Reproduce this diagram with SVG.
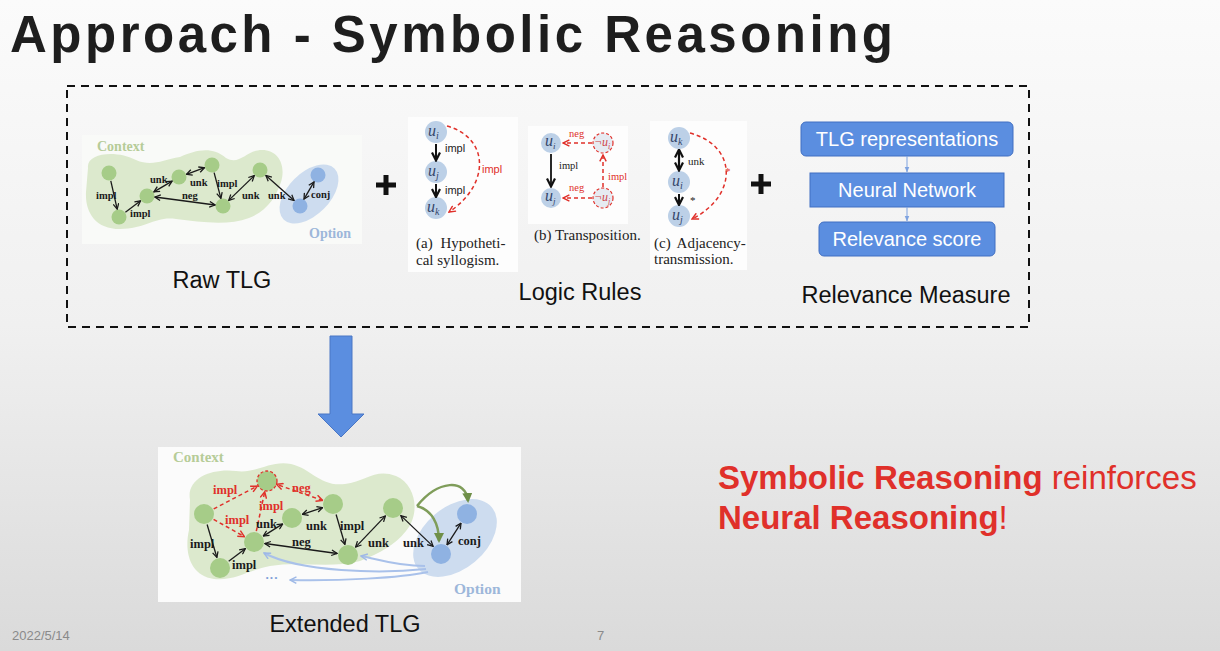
<svg xmlns="http://www.w3.org/2000/svg" width="1220" height="651" viewBox="0 0 1220 651">
<defs>
<linearGradient id="bg" x1="0" y1="0" x2="0" y2="1">
<stop offset="0" stop-color="#fbfbfb"/>
<stop offset="0.5" stop-color="#f0f0f0"/>
<stop offset="1" stop-color="#dadada"/>
</linearGradient>
<marker id="ak" viewBox="0 0 10 10" refX="9" refY="5" markerWidth="7" markerHeight="7" markerUnits="userSpaceOnUse" orient="auto-start-reverse"><path d="M1,1 L9,5 L1,9" fill="none" stroke="#1a1a1a" stroke-width="1.8"/></marker>
<marker id="akb" viewBox="0 0 10 10" refX="8.5" refY="5" markerWidth="10" markerHeight="10" markerUnits="userSpaceOnUse" orient="auto-start-reverse"><path d="M1,1 L9,5 L1,9" fill="none" stroke="#111" stroke-width="2.2"/></marker>
<marker id="ar" viewBox="0 0 10 10" refX="9" refY="5" markerWidth="8" markerHeight="8" markerUnits="userSpaceOnUse" orient="auto-start-reverse"><path d="M1,1 L9,5 L1,9" fill="none" stroke="#e0302a" stroke-width="1.8"/></marker>
<marker id="ag" viewBox="0 0 10 10" refX="8" refY="5" markerWidth="10" markerHeight="10" markerUnits="userSpaceOnUse" orient="auto"><path d="M0,0 L10,5 L0,10 z" fill="#6f8f48"/></marker>
<marker id="abl" viewBox="0 0 10 10" refX="9" refY="5" markerWidth="8" markerHeight="8" markerUnits="userSpaceOnUse" orient="auto"><path d="M1,1 L9,5 L1,9" fill="none" stroke="#9fb9e6" stroke-width="1.8"/></marker>
<marker id="arel" viewBox="0 0 10 10" refX="9" refY="5" markerWidth="6" markerHeight="6" markerUnits="userSpaceOnUse" orient="auto"><path d="M0,1 L10,5 L0,9 z" fill="#7fa3e0"/></marker>
</defs>
<style>
.lbl{font-family:"Liberation Serif",serif;font-weight:bold;fill:#1a1a1a}
.s10{font-size:10.5px}
.s12{font-size:12.5px}
.red{fill:#e0302a}
.gn{fill:#a6cc88}
.bn{fill:#8fb2e2}
.ln{fill:#bcd0e7}
.uk{font-family:"Liberation Serif",serif;font-style:italic;font-size:16px;fill:#34456a}
.cap{font-family:"Liberation Serif",serif;font-size:15px;fill:#222}
.sans{font-family:"Liberation Sans",Arial,sans-serif}
.big{font-family:"Liberation Sans",Arial,sans-serif;font-size:23.5px;fill:#111}
.e{fill:none;stroke:#1a1a1a;stroke-width:1.3}
.er{fill:none;stroke:#e0302a;stroke-width:1.5;stroke-dasharray:4 3}
.box{fill:#5b8ee0;stroke:#416fc2;stroke-width:1}
.bt{font-family:"Liberation Sans",Arial,sans-serif;font-size:20px;fill:#fff}
</style>
<rect x="0" y="0" width="1220" height="651" fill="url(#bg)"/>

<g id="title"><text x="10" y="52" font-family="Liberation Sans, Arial, sans-serif" font-weight="bold" font-size="51" letter-spacing="3.5" fill="#1e1e1e">Approach - Symbolic Reasoning</text></g>

<g id="frame"><rect x="67" y="86" width="962" height="241" fill="none" stroke="#111" stroke-width="2" stroke-dasharray="8 6"/></g>

<!-- Raw TLG -->
<g id="raw-tlg">
<rect x="82" y="135" width="280" height="109" fill="#f9faf8"/>
<path d="M88 168 C86 152 118 150 136 160 C152 167 162 160 180 157 C196 150 212 146 226 158 C240 166 246 150 262 150 C279 150 286 166 281 182 C276 197 267 211 249 218 C228 226 200 222 176 219 C155 216 146 229 120 229 C95 229 85 212 86 192 Z" fill="#dce9cd"/>
<ellipse cx="309" cy="194" rx="36" ry="21" transform="rotate(-45 309 194)" fill="#cddcef"/>
<text x="97" y="151" font-family="Liberation Serif, serif" font-weight="bold" font-size="14" fill="#b6cc98">Context</text>
<text x="309" y="238" font-family="Liberation Serif, serif" font-weight="bold" font-size="14" fill="#9db7da">Option</text>
</g>
<g id="raw-nodes">
<circle id="r1" cx="109" cy="173" r="7.5" class="gn"/>
<circle id="r2" cx="119" cy="217" r="7.5" class="gn"/>
<circle id="r3" cx="147" cy="196" r="7.5" class="gn"/>
<circle id="r4" cx="179" cy="177" r="7.5" class="gn"/>
<circle id="r5" cx="212" cy="165" r="7.5" class="gn"/>
<circle id="r6" cx="223" cy="206" r="7.5" class="gn"/>
<circle id="r7" cx="260" cy="170" r="7.5" class="gn"/>
<circle id="ro1" cx="300" cy="206" r="7.5" class="bn"/>
<circle id="ro2" cx="318" cy="175" r="7.5" class="bn"/>
</g>
<g id="raw-edges">
<line x1="110.8" y1="180.8" x2="117.2" y2="209.2" class="e" marker-end="url(#ak)"/>
<line x1="125.4" y1="212.2" x2="140.6" y2="200.8" class="e" marker-end="url(#ak)"/>
<line x1="153.9" y1="191.9" x2="172.1" y2="181.1" class="e" marker-start="url(#ak)" marker-end="url(#ak)"/>
<line x1="186.5" y1="174.3" x2="204.5" y2="167.7" class="e" marker-start="url(#ak)" marker-end="url(#ak)"/>
<line x1="214.1" y1="172.7" x2="220.9" y2="198.3" class="e" marker-end="url(#ak)"/>
<line x1="154.9" y1="197" x2="215.1" y2="205" class="e" marker-start="url(#ak)" marker-end="url(#ak)"/>
<line x1="228.7" y1="200.4" x2="254.3" y2="175.6" class="e" marker-start="url(#ak)" marker-end="url(#ak)"/>
<line x1="265.9" y1="175.4" x2="294.1" y2="200.6" class="e" marker-start="url(#ak)" marker-end="url(#ak)"/>
<line x1="304" y1="199.1" x2="314" y2="181.9" class="e" marker-start="url(#ak)" marker-end="url(#ak)"/>
</g>
<g id="raw-labels" class="lbl s10">
<text x="96" y="199">impl</text>
<text x="130" y="217">impl</text>
<text x="150" y="183">unk</text>
<text x="190" y="186">unk</text>
<text x="217" y="187">impl</text>
<text x="182" y="199">neg</text>
<text x="242" y="199">unk</text>
<text x="268" y="199">unk</text>
<text x="311" y="198">conj</text>
</g>
<text x="222" y="288" text-anchor="middle" class="big">Raw TLG</text>

<g id="plus1"><rect x="376" y="182.5" width="20" height="5" fill="#111"/><rect x="383.5" y="175" width="5" height="20" fill="#111"/></g>

<!-- Logic rule (a) -->
<g id="rule-a">
<rect x="408" y="117" width="110" height="155" fill="#fdfdfd"/>
<circle cx="436" cy="132" r="11" class="ln"/>
<circle cx="436" cy="172" r="11" class="ln"/>
<circle cx="436" cy="208" r="11" class="ln"/>
<text x="428" y="136" class="uk">u<tspan font-size="10" dy="3">i</tspan></text>
<text x="428" y="176" class="uk">u<tspan font-size="10" dy="3">j</tspan></text>
<text x="427" y="212" class="uk">u<tspan font-size="10" dy="3">k</tspan></text>
<line x1="436" y1="144" x2="436" y2="160" stroke="#111" stroke-width="2" marker-end="url(#akb)"/>
<line x1="436" y1="184" x2="436" y2="196.5" stroke="#111" stroke-width="2" marker-end="url(#akb)"/>
<path d="M447 126 C490 138 490 185 449 212" class="er" marker-end="url(#ar)"/>
<text x="445" y="152" class="sans" font-size="11" fill="#222">impl</text>
<text x="445" y="194" class="sans" font-size="11" fill="#222">impl</text>
<text x="482" y="173" class="sans red" font-size="11">impl</text>
<text x="416" y="248" class="cap" word-spacing="4">(a) Hypotheti-</text>
<text x="416" y="265" class="cap">cal syllogism.</text>
</g>

<!-- Logic rule (b) -->
<g id="rule-b">
<rect x="528" y="126" width="100" height="98" fill="#fdfdfd"/>
<circle cx="551" cy="143" r="10" class="ln"/>
<circle cx="551" cy="198" r="10" class="ln"/>
<circle cx="603" cy="143" r="10" fill="#e6ebf2" stroke="#e0302a" stroke-width="1.2" stroke-dasharray="3 2"/>
<circle cx="603" cy="198" r="10" fill="#e6ebf2" stroke="#e0302a" stroke-width="1.2" stroke-dasharray="3 2"/>
<text x="545" y="146" class="uk" font-size="13">u<tspan font-size="9" dy="3">i</tspan></text>
<text x="545" y="201" class="uk" font-size="13">u<tspan font-size="9" dy="3">j</tspan></text>
<text x="594" y="146" font-family="Liberation Serif, serif" font-style="italic" font-size="12" fill="#d0454a">¬u<tspan font-size="8" dy="3">i</tspan></text>
<text x="594" y="201" font-family="Liberation Serif, serif" font-style="italic" font-size="12" fill="#d0454a">¬u<tspan font-size="8" dy="3">j</tspan></text>
<line x1="551" y1="154" x2="551" y2="186" stroke="#111" stroke-width="1.8" marker-end="url(#akb)"/>
<line x1="592" y1="143" x2="563" y2="143" class="er" marker-end="url(#ar)"/>
<line x1="592" y1="198" x2="563" y2="198" class="er" marker-end="url(#ar)"/>
<line x1="603" y1="187" x2="603" y2="155" class="er" marker-end="url(#ar)"/>
<text x="559" y="169" font-family="Liberation Serif, serif" font-size="10.5" fill="#222">impl</text>
<text x="569" y="137" font-family="Liberation Serif, serif" font-size="10.5" class="red">neg</text>
<text x="569" y="191" font-family="Liberation Serif, serif" font-size="10.5" class="red">neg</text>
<text x="608" y="180" font-family="Liberation Serif, serif" font-size="10.5" class="red">impl</text>
<text x="534" y="240" class="cap" font-size="12.8">(b) Transposition.</text>
</g>

<!-- Logic rule (c) -->
<g id="rule-c">
<rect x="650" y="121" width="97" height="149" fill="#fdfdfd"/>
<circle cx="679" cy="138" r="11" class="ln"/>
<circle cx="679" cy="182" r="11" class="ln"/>
<circle cx="679" cy="216" r="11" class="ln"/>
<text x="670" y="142" class="uk">u<tspan font-size="10" dy="3">k</tspan></text>
<text x="672" y="186" class="uk">u<tspan font-size="10" dy="3">i</tspan></text>
<text x="672" y="220" class="uk">u<tspan font-size="10" dy="3">j</tspan></text>
<line x1="679" y1="150" x2="679" y2="170" stroke="#111" stroke-width="2.2" marker-start="url(#akb)" marker-end="url(#akb)"/>
<line x1="679" y1="194" x2="679" y2="204.5" stroke="#111" stroke-width="2" marker-end="url(#akb)"/>
<path d="M690 133 C738 146 738 196 692 219" class="er" marker-end="url(#ar)"/>
<text x="688" y="165" font-family="Liberation Serif, serif" font-size="11" fill="#222">unk</text>
<text x="690" y="204" font-family="Liberation Serif, serif" font-size="11" fill="#222">*</text>
<text x="725" y="175" font-family="Liberation Serif, serif" font-size="11" class="red">*</text>
<text x="654" y="248" class="cap" word-spacing="3">(c) Adjacency-</text>
<text x="654" y="264" class="cap">transmission.</text>
</g>
<text x="580" y="300" text-anchor="middle" class="big">Logic Rules</text>

<g id="plus2"><rect x="751" y="181.5" width="20" height="5" fill="#111"/><rect x="758.5" y="174" width="5" height="20" fill="#111"/></g>

<!-- Relevance measure -->
<g id="rel-tlg"><rect x="801" y="122" width="212" height="34" rx="5" class="box"/><text x="907" y="146" text-anchor="middle" class="bt">TLG representations</text></g>
<g id="rel-nn"><rect x="810" y="173" width="194" height="34" class="box"/><text x="907" y="197" text-anchor="middle" class="bt">Neural Network</text></g>
<g id="rel-score"><rect x="819" y="222" width="176" height="34" rx="5" class="box"/><text x="907" y="246" text-anchor="middle" class="bt">Relevance score</text></g>
<g id="rel-connectors">
<line x1="907" y1="156" x2="907" y2="172" stroke="#7fa3e0" stroke-width="1" marker-end="url(#arel)"/>
<line x1="907" y1="207" x2="907" y2="221" stroke="#7fa3e0" stroke-width="1" marker-end="url(#arel)"/>
</g>
<text x="906" y="303" text-anchor="middle" class="big">Relevance Measure</text>

<!-- big arrow -->
<g id="down-arrow"><polygon points="330,336 352,336 352,414 364,414 341,437 318,414 330,414" fill="#5b8ee0" stroke="#4a76c4" stroke-width="1"/></g>

<!-- Extended TLG -->
<g id="ext-tlg">
<rect x="158" y="447" width="363" height="155" fill="#fbfbfb"/>
<path d="M190 500 C186 478 212 468 236 471 C256 474 270 460 291 464 C312 469 320 487 345 484 C366 481 376 468 396 476 C417 485 420 515 406 531 C395 545 380 553 360 561 C330 569 300 561 270 566 C246 571 235 581 214 579 C190 576 184 552 189 530 Z" fill="#dce9cd"/>
<ellipse cx="455" cy="538" rx="48" ry="31" transform="rotate(-40 455 538)" fill="#cddcef"/>
<text x="173" y="462" font-family="Liberation Serif, serif" font-weight="bold" font-size="15" fill="#b6cc98">Context</text>
<text x="454" y="594" font-family="Liberation Serif, serif" font-weight="bold" font-size="15.5" fill="#9db7da">Option</text>
<text x="265" y="582" font-family="Liberation Serif, serif" font-weight="bold" font-size="13" fill="#7f9fd8">···</text>
</g>
<g id="ext-nodes">
<circle id="eT" cx="267" cy="481" r="10" class="gn" stroke="#e0302a" stroke-width="1.3" stroke-dasharray="3 2"/>
<circle id="eA" cx="204" cy="514" r="10" class="gn"/>
<circle id="eB" cx="220" cy="568" r="10" class="gn"/>
<circle id="eC" cx="254" cy="542" r="10" class="gn"/>
<circle id="eD" cx="292" cy="518" r="10" class="gn"/>
<circle id="eE" cx="333" cy="504" r="10" class="gn"/>
<circle id="eF" cx="348" cy="555" r="10" class="gn"/>
<circle id="eG" cx="393" cy="508" r="10" class="gn"/>
<circle id="eO1" cx="441" cy="554" r="10" class="bn"/>
<circle id="eO2" cx="467" cy="514" r="10" class="bn"/>
</g>
<g id="ext-edges">
<path d="M425 566 C395 566 378 559 361 556" fill="none" stroke="#a9c1ea" stroke-width="2" marker-end="url(#abl)"/>
<path d="M426 569 C380 574 300 572 264 553" fill="none" stroke="#a9c1ea" stroke-width="2" marker-end="url(#abl)"/>
<path d="M428 572 C400 578 340 581 290 580" fill="none" stroke="#a9c1ea" stroke-width="2" marker-end="url(#abl)"/>
<line x1="207.1" y1="524.5" x2="216.9" y2="557.5" class="e" marker-end="url(#ak)"/>
<line x1="228.7" y1="561.3" x2="245.3" y2="548.7" class="e" marker-end="url(#ak)"/>
<line x1="263.3" y1="536.1" x2="282.7" y2="523.9" class="e" marker-start="url(#ak)" marker-end="url(#ak)"/>
<line x1="302.4" y1="514.4" x2="322.6" y2="507.6" class="e" marker-start="url(#ak)" marker-end="url(#ak)"/>
<line x1="336.1" y1="514.5" x2="344.9" y2="544.5" class="e" marker-end="url(#ak)"/>
<line x1="264.9" y1="543.5" x2="337.1" y2="553.5" class="e" marker-start="url(#ak)" marker-end="url(#ak)"/>
<line x1="355.6" y1="547.1" x2="385.4" y2="515.9" class="e" marker-start="url(#ak)" marker-end="url(#ak)"/>
<line x1="400.9" y1="515.6" x2="433.1" y2="546.4" class="e" marker-start="url(#ak)" marker-end="url(#ak)"/>
<line x1="447" y1="544.8" x2="461" y2="523.2" class="e" marker-start="url(#ak)" marker-end="url(#ak)"/>
<line x1="213.7" y1="508.9" x2="257.3" y2="486.1" class="er" marker-end="url(#ar)"/>
<line x1="322.6" y1="500.4" x2="276.6" y2="484.4" class="er" marker-start="url(#ar)" marker-end="url(#ar)"/>
<line x1="256.3" y1="531.2" x2="264.7" y2="491.8" class="er" marker-end="url(#ar)"/>
<line x1="213.6" y1="519.4" x2="244.4" y2="536.6" class="er" marker-end="url(#ar)"/>
<path d="M417 506 C438 480 466 478 468 501" fill="none" stroke="#7f9d5a" stroke-width="2.5" marker-end="url(#ag)"/>
<path d="M417 506 C432 510 439 524 439 541" fill="none" stroke="#7f9d5a" stroke-width="2.5" marker-end="url(#ag)"/>
</g>
<g id="ext-labels" class="lbl s12">
<text x="190" y="548">impl</text>
<text x="232" y="569">impl</text>
<text x="256" y="528">unk</text>
<text x="306" y="530">unk</text>
<text x="340" y="530">impl</text>
<text x="292" y="546">neg</text>
<text x="368" y="547">unk</text>
<text x="403" y="547">unk</text>
<text x="458" y="545">conj</text>
<text x="213" y="494" class="red">impl</text>
<text x="292" y="492" class="red">neg</text>
<text x="259" y="510" class="red">impl</text>
<text x="225" y="524" class="red">impl</text>
</g>
<text x="345" y="632" text-anchor="middle" class="big">Extended TLG</text>

<g id="message" font-family="Liberation Sans, Arial, sans-serif" font-size="33" fill="#e0302a">
<text x="718" y="489"><tspan font-weight="bold">Symbolic Reasoning</tspan> reinforces</text>
<text x="718" y="529"><tspan font-weight="bold">Neural Reasoning</tspan>!</text>
</g>

<g id="footer" font-family="Liberation Sans, Arial, sans-serif" font-size="13" fill="#8a8a8a">
<text x="12" y="640">2022/5/14</text>
<text x="597" y="640">7</text>
</g>
</svg>
